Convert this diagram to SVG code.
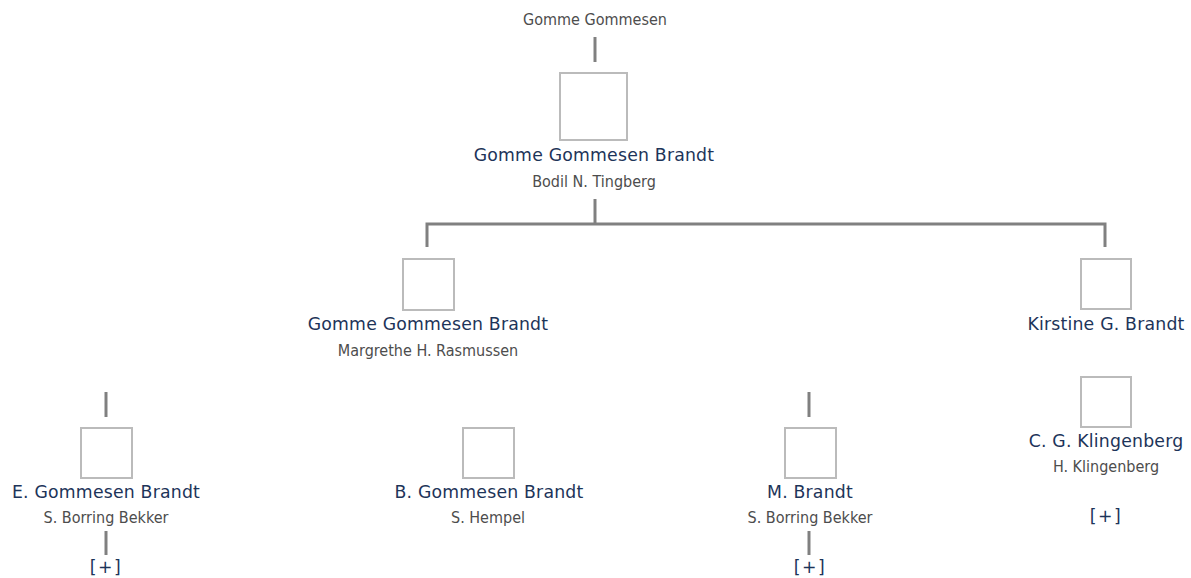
<svg xmlns="http://www.w3.org/2000/svg" width="1191" height="578" viewBox="0 0 1191 578">
<style>
.box{fill:#fff;stroke:#bbbbbb;stroke-width:2}
.name{font-family:"DejaVu Sans",Verdana,sans-serif;font-size:17.3px;letter-spacing:0.2px;fill:#1d3459;text-anchor:middle}
.more{letter-spacing:1.5px}
.sub{font-family:"DejaVu Sans Condensed","DejaVu Sans",sans-serif;font-stretch:condensed;font-size:16px;fill:#4d4d4d;text-anchor:middle}
.ln{stroke:#808080;stroke-width:3;fill:none}
</style>
<rect width="1191" height="578" fill="#fff"/>
<g id="connectors">
<line class="ln" x1="595" y1="37" x2="595" y2="62"/>
<polyline class="ln" points="595,199 595,224"/>
<polyline class="ln" points="427,247 427,224 1105,224 1105,247"/>
<line class="ln" x1="106" y1="392" x2="106" y2="417"/>
<line class="ln" x1="106" y1="531" x2="106" y2="555"/>
<line class="ln" x1="809" y1="392" x2="809" y2="417"/>
<line class="ln" x1="809" y1="531" x2="809" y2="555"/>
</g>
<g id="n-top-parent">
<text class="sub" x="595" y="25">Gomme Gommesen</text>
</g>
<g id="n-root">
<rect class="box" x="560" y="73" width="67" height="67"/>
<text class="name" x="594" y="161">Gomme Gommesen Brandt</text>
<text class="sub" x="594" y="187">Bodil N. Tingberg</text>
</g>
<g id="n-gomme2">
<rect class="box" x="403" y="259" width="51" height="51"/>
<text class="name" x="428" y="330">Gomme Gommesen Brandt</text>
<text class="sub" x="428" y="356">Margrethe H. Rasmussen</text>
</g>
<g id="n-kirstine">
<rect class="box" x="1081" y="259" width="50" height="50"/>
<text class="name" x="1106" y="330">Kirstine G. Brandt</text>
</g>
<g id="n-klingenberg">
<rect class="box" x="1081" y="377" width="50" height="50"/>
<text class="name" x="1106" y="447">C. G. Klingenberg</text>
<text class="sub" x="1106" y="472">H. Klingenberg</text>
<text class="name more" x="1106" y="522">[+]</text>
</g>
<g id="n-e-gommesen">
<rect class="box" x="81" y="428" width="51" height="50"/>
<text class="name" x="106" y="498">E. Gommesen Brandt</text>
<text class="sub" x="106" y="523">S. Borring Bekker</text>
<text class="name more" x="106" y="573">[+]</text>
</g>
<g id="n-b-gommesen">
<rect class="box" x="463" y="428" width="51" height="50"/>
<text class="name" x="489" y="498">B. Gommesen Brandt</text>
<text class="sub" x="488" y="523">S. Hempel</text>
</g>
<g id="n-m-brandt">
<rect class="box" x="785" y="428" width="51" height="50"/>
<text class="name" x="810" y="498">M. Brandt</text>
<text class="sub" x="810" y="523">S. Borring Bekker</text>
<text class="name more" x="810" y="573">[+]</text>
</g>
</svg>
